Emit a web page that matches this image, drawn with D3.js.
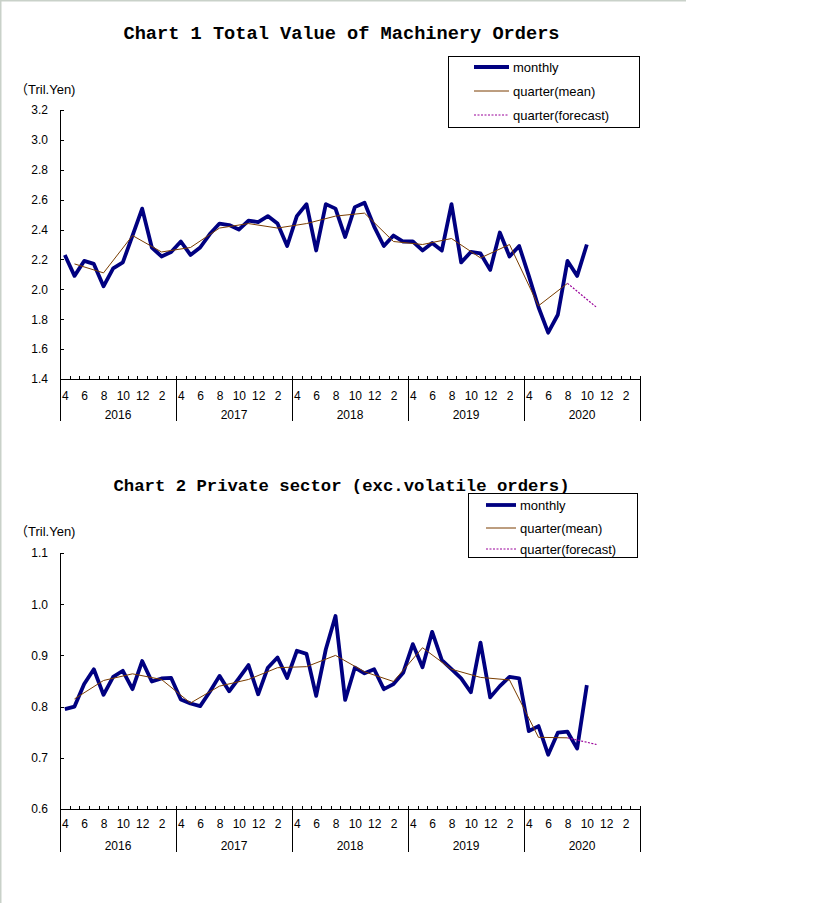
<!DOCTYPE html>
<html>
<head>
<meta charset="utf-8">
<script src="https://cdn.jsdelivr.net/npm/d3@7"></script>
<style>
  body { margin: 0; background: #fff; }
  svg { display: block; }
  .tick text { font-family: "Liberation Sans", Arial, sans-serif; font-size: 12px; fill: #000; }
  .title { font-family: "Liberation Mono", "Courier New", monospace; font-weight: bold; }
  .legend-label, .unit { font-family: "Liberation Sans", Arial, "Noto Sans CJK JP", sans-serif; font-size: 13px; }
</style>
</head>
<body>
<script>
// months run April 2016 .. March 2021 (5 fiscal years)
const years = ["2016", "2017", "2018", "2019", "2020"];
const monthTicks = ["4", "6", "8", "10", "12", "2"];
const legendLabels = ["monthly", "quarter(mean)", "quarter(forecast)"];

// Chart 1: total value of machinery orders (Tril.Yen)
const chart1Monthly = [
  2.23, 2.09, 2.19, 2.17, 2.02, 2.14, 2.18, 2.36, 2.54, 2.28, 2.22, 2.25,
  2.32, 2.23, 2.28, 2.37, 2.44, 2.43, 2.40, 2.46, 2.45, 2.49, 2.44, 2.29,
  2.49, 2.57, 2.26, 2.57, 2.54, 2.35, 2.55, 2.58, 2.42, 2.29, 2.36, 2.32,
  2.32, 2.26, 2.31, 2.26, 2.57, 2.18, 2.25, 2.24, 2.13, 2.38, 2.22, 2.29,
  2.09, 1.88, 1.71, 1.83, 2.19, 2.09, 2.30
];
const chart1Quarter = [2.17, 2.11, 2.36, 2.25, 2.28, 2.41, 2.44, 2.41, 2.44, 2.49, 2.51, 2.32, 2.30, 2.34, 2.21, 2.30, 1.89, 2.04];
const chart1Forecast = [2.04, 1.88];
const chart1Ticks = [1.4, 1.6, 1.8, 2.0, 2.2, 2.4, 2.6, 2.8, 3.0, 3.2];

// Chart 2: private sector excluding volatile orders (Tril.Yen)
const chart2Monthly = [
  0.795, 0.800, 0.844, 0.873, 0.823, 0.858, 0.870, 0.834, 0.889, 0.849, 0.855, 0.856,
  0.814, 0.806, 0.801, 0.829, 0.860, 0.830, 0.855, 0.881, 0.824, 0.876, 0.896, 0.856,
  0.909, 0.903, 0.821, 0.912, 0.977, 0.813, 0.876, 0.865, 0.873, 0.834, 0.844, 0.866,
  0.922, 0.877, 0.946, 0.891, 0.873, 0.855, 0.828, 0.925, 0.818, 0.840, 0.858, 0.855,
  0.752, 0.762, 0.706, 0.749, 0.751, 0.718, 0.842
];
const chart2Quarter = [0.815, 0.851, 0.864, 0.853, 0.807, 0.840, 0.853, 0.876, 0.878, 0.900, 0.868, 0.849, 0.915, 0.873, 0.857, 0.852, 0.740, 0.739];
const chart2Forecast = [0.739, 0.726];
const chart2Ticks = [0.6, 0.7, 0.8, 0.9, 1.0, 1.1];

class OrdersChart {
  constructor(_config, _data) {
    this.config = {
      parentElement: _config.parentElement,
      title: _config.title,
      titleY: _config.titleY,
      titleWidth: _config.titleWidth,
      titleSize: _config.titleSize,
      left: 60,
      right: 640,
      top: _config.top,
      bottom: _config.bottom,
      unitY: _config.unitY,
      legend: _config.legend,
      monthPad: _config.monthPad,
      yearPad: _config.yearPad,
      sepLength: _config.sepLength
    };
    this.data = _data;
    this.initVis();
  }

  initVis() {
    let vis = this;
    vis.svg = vis.config.parentElement;
    vis.chart = vis.svg.append('g');

    vis.nMonths = years.length * 12;
    // month boundaries scale: index 0..60 -> pixel
    vis.xScale = d3.scaleLinear()
      .domain([0, vis.nMonths])
      .range([vis.config.left, vis.config.right]);
    vis.yearScale = d3.scaleBand()
      .domain(years)
      .range([vis.config.left, vis.config.right]);
    vis.yScale = d3.scaleLinear()
      .domain(d3.extent(vis.data.ticks))
      .range([vis.config.bottom, vis.config.top]);

    this.updateVis();
  }

  updateVis() {
    let vis = this;
    const c = vis.config;

    // title
    vis.chart.append('text')
      .attr('class', 'title')
      .attr('x', 341.5)
      .attr('y', c.titleY)
      .attr('text-anchor', 'middle')
      .attr('font-size', c.titleSize)
      .attr('textLength', c.titleWidth)
      .attr('lengthAdjust', 'spacingAndGlyphs')
      .text(c.title);

    vis.chart.append('text')
      .attr('class', 'unit')
      .attr('x', 15)
      .attr('y', c.unitY)
      .text('（Tril.Yen)');

    // Y axis
    vis.yAxis = d3.axisLeft(vis.yScale)
      .tickValues(vis.data.ticks)
      .tickSizeInner(-4)
      .tickSizeOuter(0)
      .tickPadding(12)
      .tickFormat(d3.format('.1f'));
    vis.chart.append('g')
      .attr('class', 'axis y-axis')
      .attr('transform', `translate(${c.left},0)`)
      .call(vis.yAxis);

    // X axis line with small month ticks pointing up
    vis.xAxis = d3.axisBottom(vis.xScale)
      .tickValues(d3.range(vis.nMonths + 1))
      .tickSizeInner(-3)
      .tickSizeOuter(0)
      .tickFormat('');
    vis.chart.append('g')
      .attr('class', 'axis x-axis')
      .attr('transform', `translate(0,${c.bottom})`)
      .call(vis.xAxis);

    // month labels
    const labelIdx = d3.range(0, vis.nMonths, 2);
    vis.monthAxis = d3.axisBottom(vis.xScale)
      .tickValues(labelIdx.map(i => i + 0.5))
      .tickSize(0)
      .tickPadding(c.monthPad)
      .tickFormat((d, i) => monthTicks[i % monthTicks.length]);
    vis.chart.append('g')
      .attr('class', 'axis month-axis')
      .attr('transform', `translate(0,${c.bottom})`)
      .call(vis.monthAxis)
      .call(g => g.select('.domain').remove());

    // year separators
    vis.sepAxis = d3.axisBottom(vis.xScale)
      .tickValues(d3.range(0, vis.nMonths + 1, 12))
      .tickSize(c.sepLength)
      .tickFormat('');
    vis.chart.append('g')
      .attr('class', 'axis sep-axis')
      .attr('transform', `translate(0,${c.bottom})`)
      .call(vis.sepAxis)
      .call(g => g.select('.domain').remove());

    // year labels
    vis.yearAxis = d3.axisBottom(vis.yearScale)
      .tickSize(0)
      .tickPadding(c.yearPad);
    vis.chart.append('g')
      .attr('class', 'axis year-axis')
      .attr('transform', `translate(0,${c.bottom})`)
      .call(vis.yearAxis)
      .call(g => g.select('.domain').remove());

    vis.chart.selectAll('.axis path, .axis line')
      .attr('stroke', '#000')
      .attr('stroke-width', 1)
      .attr('shape-rendering', 'crispEdges');

    this.renderVis();
  }

  renderVis() {
    let vis = this;
    const c = vis.config;
    const mid = i => vis.xScale(i + 0.5);

    const monthLine = d3.line()
      .x((d, i) => mid(i))
      .y(d => vis.yScale(d));
    const quarterLine = d3.line()
      .x((d, i) => mid(i * 3 + 1))
      .y(d => vis.yScale(d));
    const lastQ = vis.data.quarter.length - 1;
    const forecastLine = d3.line()
      .x((d, i) => mid((lastQ + i) * 3 + 1))
      .y(d => vis.yScale(d));

    vis.chart.append('path')
      .datum(vis.data.monthly)
      .attr('d', monthLine)
      .attr('fill', 'none')
      .attr('stroke', '#000080')
      .attr('stroke-width', 3.8)
      .attr('stroke-linejoin', 'round');

    vis.chart.append('path')
      .datum(vis.data.quarter)
      .attr('d', quarterLine)
      .attr('fill', 'none')
      .attr('stroke', '#7a3d00')
      .attr('stroke-width', 1);

    vis.chart.append('path')
      .datum(vis.data.forecast)
      .attr('d', forecastLine)
      .attr('fill', 'none')
      .attr('stroke', '#990099')
      .attr('stroke-width', 1.2)
      .attr('stroke-dasharray', '2,1.5');

    // legend
    const lg = c.legend;
    const legend = vis.chart.append('g');
    legend.append('rect')
      .attr('x', lg.x0 + 0.5).attr('y', lg.y0 + 0.5)
      .attr('width', lg.x1 - lg.x0).attr('height', lg.y1 - lg.y0)
      .attr('fill', '#fff').attr('stroke', '#000').attr('stroke-width', 1);

    const styles = [
      {stroke: '#000080', width: 3.8, dash: null},
      {stroke: '#7a3d00', width: 1, dash: null},
      {stroke: '#990099', width: 1, dash: '2,1.5'}
    ];
    const rows = legend.selectAll('g.row')
      .data(legendLabels)
      .enter()
      .append('g')
        .attr('class', 'row')
        .attr('transform', (d, i) => `translate(0,${lg.rows[i]})`);
    rows.append('line')
      .attr('x1', lg.lineX0).attr('x2', lg.lineX1)
      .attr('stroke', (d, i) => styles[i].stroke)
      .attr('stroke-width', (d, i) => styles[i].width)
      .attr('stroke-dasharray', (d, i) => styles[i].dash);
    rows.append('text')
      .attr('class', 'legend-label')
      .attr('x', lg.textX)
      .attr('dy', '0.35em')
      .text(d => d);
  }
}

const svg = d3.select('body').append('svg')
  .attr('width', 819)
  .attr('height', 903);

// faint page frame at left and top
svg.append('rect').attr('x', 0).attr('y', 0).attr('width', 1.5).attr('height', 903).attr('fill', '#c9d1c9');
svg.append('rect').attr('x', 0).attr('y', 0).attr('width', 686).attr('height', 1.5).attr('fill', '#c9d1c9');

new OrdersChart({
  parentElement: svg,
  title: 'Chart 1 Total Value of Machinery Orders',
  titleY: 39,
  titleWidth: 436,
  titleSize: 18,
  top: 110,
  bottom: 379,
  unitY: 94,
  monthPad: 12,
  yearPad: 31,
  sepLength: 42,
  legend: {x0: 448, x1: 639, y0: 56, y1: 127, rows: [67, 91, 115], lineX0: 474, lineX1: 509, textX: 513}
}, {monthly: chart1Monthly, quarter: chart1Quarter, forecast: chart1Forecast, ticks: chart1Ticks});

new OrdersChart({
  parentElement: svg,
  title: 'Chart 2 Private sector (exc.volatile orders)',
  titleY: 491,
  titleWidth: 456,
  titleSize: 17,
  top: 553,
  bottom: 809,
  unitY: 536,
  monthPad: 10,
  yearPad: 32,
  sepLength: 43,
  legend: {x0: 468, x1: 637, y0: 493, y1: 557, rows: [505, 528, 549], lineX0: 486, lineX1: 516, textX: 520}
}, {monthly: chart2Monthly, quarter: chart2Quarter, forecast: chart2Forecast, ticks: chart2Ticks});
</script>
</body>
</html>
